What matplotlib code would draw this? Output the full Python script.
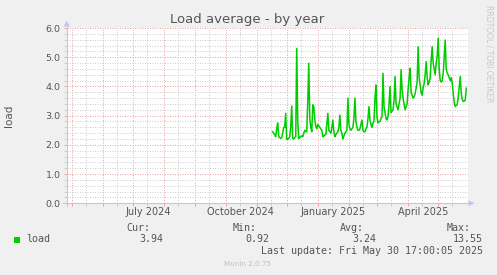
import numpy as np
import pandas as pd
import matplotlib
matplotlib.use('Agg')
import matplotlib.pyplot as plt
import matplotlib.dates as mdates
from matplotlib.patches import Polygon, Rectangle
from matplotlib.lines import Line2D

W, H = 497, 275

# daily load average, starting 2024-11-17
start = '2024-11-17'
load = [
    2.45, 2.40, 2.35, 2.28, 2.55, 2.75, 2.30, 2.25, 2.22, 2.25,
    2.40, 2.60, 2.60, 3.08, 2.19, 2.20, 2.22, 2.28, 2.60, 3.33,
    2.22, 2.20, 2.25, 2.28, 5.30, 2.80, 2.22, 2.25, 2.30, 2.30,
    2.28, 2.40, 2.50, 2.45, 2.45, 3.50, 4.79, 2.90, 2.60, 2.45,
    3.37, 3.30, 2.85, 2.65, 2.55, 2.70, 2.65, 2.60, 2.55, 2.50,
    2.28, 2.30, 2.35, 2.35, 2.70, 3.08, 2.50, 2.45, 2.40, 2.60,
    2.85, 2.45, 2.28, 2.35, 2.40, 2.45, 2.60, 3.02, 2.50, 2.40,
    2.20, 2.30, 2.40, 2.45, 2.50, 3.60, 2.70, 2.55, 2.50, 2.55,
    2.60, 2.90, 3.60, 2.80, 2.60, 2.50, 2.50, 2.55, 2.70, 2.85,
    2.50, 2.45, 2.45, 2.55, 2.60, 2.90, 3.31, 2.85, 2.70, 2.60,
    2.75, 2.80, 3.60, 4.05, 2.95, 2.75, 2.80, 2.80, 2.90, 2.97,
    4.45, 3.30, 3.10, 2.90, 2.85, 2.97, 3.40, 4.00, 3.10, 3.15,
    3.20, 3.50, 4.34, 3.42, 3.30, 3.20, 3.40, 3.60, 4.57, 3.90,
    3.60, 3.40, 3.20, 3.30, 3.40, 3.90, 4.30, 4.62, 3.80, 3.70,
    3.60, 3.65, 3.75, 3.95, 4.15, 5.36, 4.30, 4.05, 3.80, 3.70,
    3.95, 4.10, 4.40, 4.85, 4.30, 4.05, 4.15, 4.30, 4.90, 5.36,
    4.80, 4.60, 4.40, 4.80, 5.05, 5.65, 4.60, 4.20, 4.15, 4.20,
    4.45, 5.00, 5.59, 4.60, 4.45, 4.40, 4.30, 4.20, 4.30, 4.10,
    3.75, 3.45, 3.31, 3.35, 3.37, 3.65, 4.00, 4.34, 3.75, 3.55,
    3.48, 3.50, 3.54, 3.94,
]

x_start = '2024-04-25 17:00'
x_end = '2025-05-30 17:00'
month_labels = ['July 2024', 'October 2024', 'January 2025', 'April 2025']
label_dates = ['2024-07-16', '2024-10-16', '2025-01-16', '2025-04-16']
y_major = [0.0, 1.0, 2.0, 3.0, 4.0, 5.0, 6.0]

series_name = 'load'
stat_names = ['Cur:', 'Min:', 'Avg:', 'Max:']
stat_values = ['3.94', '0.92', '3.24', '13.55']
last_update = 'Last update: Fri May 30 17:00:05 2025'

BG = '#f0f0f0'
TXT = '#555555'
MGRID = '#eba6a6'
GRID = '#cecece'
AXIS = '#c4c4f4'
LINE = '#00cc00'


def px(x, y):
    return (x / W, 1 - y / H)


dates = pd.date_range(start, periods=len(load), freq='D')

fig = plt.figure(figsize=(W / 100, H / 100), dpi=100, facecolor=BG)
left, right, top, bottom = 66.7, 468.0, 28.0, 203.3
ax = fig.add_axes([left / W, 1 - bottom / H, (right - left) / W, (bottom - top) / H])
ax.set_facecolor('white')

ax.set_xlim(mdates.date2num(pd.Timestamp(x_start)), mdates.date2num(pd.Timestamp(x_end)))
ax.set_ylim(0, 6)

# grid: red at month starts / whole units, grey at mid-month / 0.2 steps
month_starts = pd.date_range('2024-05-01', '2025-05-01', freq='MS')
mid_months = pd.date_range('2024-04-15', '2025-05-15', freq='MS') + pd.Timedelta(days=14)
ax.set_xticks(mdates.date2num(month_starts))
ax.set_xticks(mdates.date2num(mid_months[mid_months < pd.Timestamp(x_end)]), minor=True)
ax.set_yticks(y_major)
ax.set_yticks(np.arange(0, 6.01, 0.2), minor=True)
ax.set_xticklabels([])
ax.set_yticklabels(['%.1f' % v for v in y_major], fontsize=6.8, color=TXT)

dot = (0, (1, 1.5))
ax.grid(which='minor', color=GRID, linestyle=dot, linewidth=0.72)
ax.grid(which='major', color=MGRID, linestyle=dot, linewidth=0.72)
ax.set_axisbelow(True)
ax.tick_params(which='major', length=2.5, width=0.72, color=MGRID, pad=2)
ax.tick_params(which='minor', length=2, width=0.72, color=GRID)
for s in ax.spines.values():
    s.set_visible(False)

ax.plot(mdates.date2num(dates), load, color=LINE, linewidth=1.1, zorder=3)

for lab, d in zip(month_labels, label_dates):
    ax.text(mdates.date2num(pd.Timestamp(d)), -0.3, lab, ha='center', va='center',
            fontsize=7, color=TXT)

# axes with arrows
fig.add_artist(Line2D([px(66.7, 0)[0]] * 2, [px(0, 206)[1], px(0, 24)[1]], color=AXIS, lw=0.8))
fig.add_artist(Line2D([px(63, 0)[0], px(471, 0)[0]], [px(0, 203.3)[1]] * 2, color=AXIS, lw=0.8))
fig.add_artist(Polygon([px(63.7, 26.5), px(69.7, 26.5), px(66.7, 20.5)], closed=True,
                       transform=fig.transFigure, color=AXIS, lw=0))
fig.add_artist(Polygon([px(468.5, 200.3), px(468.5, 206.3), px(474.5, 203.3)], closed=True,
                       transform=fig.transFigure, color=AXIS, lw=0))

fig.text(*px(247, 19), 'Load average - by year', ha='center', va='center', fontsize=9.5, color=TXT)
fig.text(*px(9, 115.6), 'load', ha='center', va='center', rotation=90, fontsize=7.5, color=TXT)
fig.text(*px(488.5, 5), 'RRDTOOL / TOBI OETIKER', ha='center', va='top', rotation=270,
         fontsize=5.5, color='#c8c8c8')

mono = 'DejaVu Sans Mono'
fig.add_artist(Rectangle(px(14, 242.5), 6 / W, 6 / H, transform=fig.transFigure,
                         facecolor=LINE, edgecolor='none'))
fig.text(*px(26, 239.3), series_name, ha='left', va='center', family=mono, fontsize=7.2, color=TXT)
value_right = [163, 269.5, 376, 483]
for name, val, xr in zip(stat_names, stat_values, value_right):
    fig.text(*px(xr - 12.5, 228.3), name, ha='right', va='center', family=mono, fontsize=7.2, color=TXT)
    fig.text(*px(xr, 239.3), val, ha='right', va='center', family=mono, fontsize=7.2, color=TXT)
fig.text(*px(483, 251), last_update, ha='right', va='center', family=mono, fontsize=7.2, color=TXT)
fig.text(*px(248, 264.3), 'Munin 2.0.75', ha='center', va='center', fontsize=5.2, color='#c0c0c0')

plt.savefig('out.png', dpi=100, facecolor=BG)
